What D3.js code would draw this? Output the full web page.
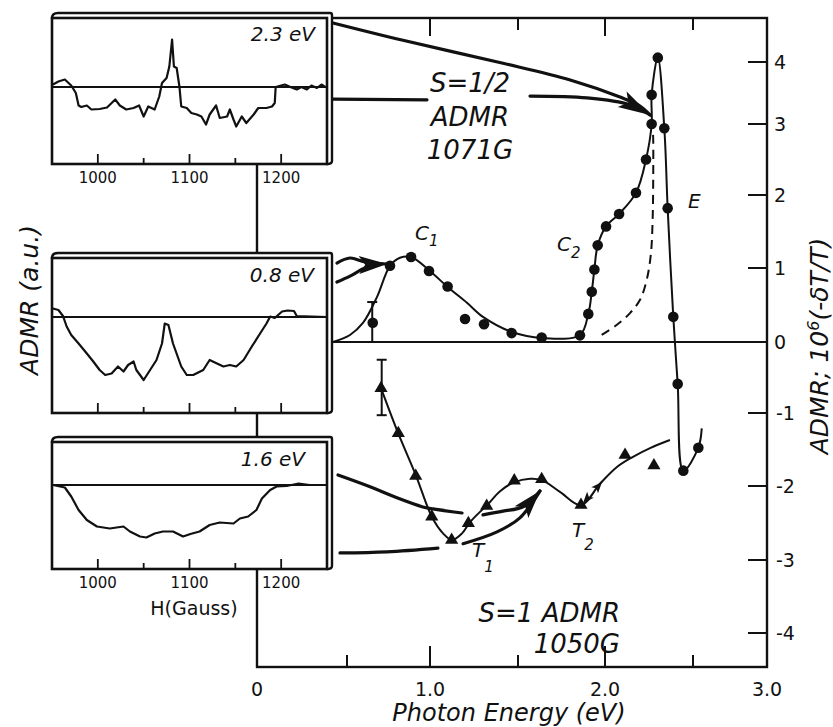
<!DOCTYPE html>
<html>
<head>
<meta charset="utf-8">
<script src="https://cdn.jsdelivr.net/npm/d3@7"></script>
<style>
body { margin: 0; background: #fff; }
svg text { font-family: "DejaVu Sans", sans-serif; fill: #111; }
</style>
</head>
<body>
<div id="chart"></div>
<script>
// ---------- data ----------
var energyTicks = [0, 0.5, 1, 1.5, 2, 2.5, 3];
var energyLabels = ["0", "", "1.0", "", "2.0", "", "3.0"];
var topTicks = [1, 1.5, 2, 2.5];
var admrTicks = [-4, -3, -2, -1, 0, 1, 2, 3, 4];
var fieldTicks = [1000, 1050, 1100, 1150, 1200];
var fieldLabels = ["1000", "", "1100", "", "1200"];

// S=1/2 ADMR (circles) [eV, ADMR]
var circlePts = [
  [0.655, 0.26], [0.759, 1.03], [0.886, 1.15], [0.994, 0.96], [1.10, 0.75],
  [1.199, 0.31], [1.307, 0.24], [1.464, 0.12], [1.636, 0.06], [1.856, 0.09],
  [1.904, 0.38], [1.924, 0.68], [1.939, 0.98], [1.958, 1.31], [2.006, 1.57],
  [2.08, 1.74], [2.176, 2.03], [2.233, 2.50], [2.265, 3.0], [2.265, 3.47],
  [2.30, 4.07], [2.337, 2.94], [2.356, 1.82], [2.388, 0.34], [2.413, -0.59],
  [2.445, -1.79], [2.536, -1.475]
];
var circleFit = [
  [0.422, 0], [0.518, 0.095], [0.596, 0.257], [0.681, 0.61], [0.759, 1.03],
  [0.819, 1.14], [0.886, 1.15], [0.994, 0.97], [1.102, 0.74], [1.21, 0.53],
  [1.301, 0.34], [1.466, 0.135], [1.638, 0.054], [1.856, 0.095], [1.904, 0.38],
  [1.924, 0.68], [1.939, 0.98], [1.958, 1.31], [2.006, 1.57], [2.08, 1.74],
  [2.176, 2.03], [2.233, 2.50], [2.265, 3.0], [2.265, 3.47], [2.30, 4.07],
  [2.337, 2.94], [2.356, 1.82], [2.388, 0.34], [2.413, -0.59], [2.445, -1.79],
  [2.536, -1.475], [2.559, -1.21]
];
var dashedCurve = [
  [1.981, 0.095], [2.066, 0.23], [2.142, 0.39], [2.199, 0.57], [2.237, 0.84],
  [2.261, 1.20], [2.271, 1.70], [2.274, 2.26], [2.274, 2.77], [2.271, 3.0]
];

// S=1 ADMR (triangles)
var trianglePts = [
  [0.705, -0.652], [0.809, -1.278], [0.914, -1.863], [1.010, -2.415], [1.123, -2.73],
  [1.218, -2.504], [1.322, -2.27], [1.479, -1.927], [1.636, -1.908], [1.862, -2.257],
  [2.114, -1.575], [2.278, -1.72]
];
var triangleFit = [
  [0.705, -0.65], [0.807, -1.27], [0.916, -1.86], [1.011, -2.42], [1.074, -2.64],
  [1.125, -2.73], [1.182, -2.64], [1.227, -2.49], [1.284, -2.35], [1.324, -2.26],
  [1.398, -2.07], [1.477, -1.95], [1.569, -1.90], [1.638, -1.92], [1.741, -2.08],
  [1.862, -2.26], [1.971, -1.97], [2.068, -1.74], [2.159, -1.60], [2.256, -1.48],
  [2.369, -1.37]
];

// error bars [eV, low, high]
var errorBars = [[0.652, 0.0, 0.54], [0.709, -1.03, -0.25]];

// inset traces [H (Gauss), signal a.u.]
var trace23 = [
  [951, 0.05], [957, 0.11], [964, 0.15], [971, 0.03], [976, -0.12], [979, -0.37],
  [982, -0.40], [988, -0.37], [993, -0.45], [1002, -0.44], [1010, -0.41], [1019, -0.25],
  [1024, -0.37], [1031, -0.45], [1039, -0.42], [1045, -0.37], [1050, -0.59], [1055, -0.39],
  [1062, -0.45], [1067, -0.19], [1070, 0.08], [1075, 0.18], [1078, 0.41], [1081, 0.95],
  [1083, 0.41], [1086, 0.38], [1089, 0.01], [1091, -0.39], [1097, -0.42], [1102, -0.52],
  [1108, -0.55], [1113, -0.59], [1118, -0.75], [1122, -0.55], [1129, -0.37], [1133, -0.62],
  [1141, -0.59], [1144, -0.45], [1148, -0.65], [1151, -0.79], [1157, -0.59], [1162, -0.72],
  [1170, -0.55], [1175, -0.42], [1184, -0.42], [1190, -0.39], [1193, -0.32], [1194, 0],
  [1204, 0.05], [1210, 0], [1217, -0.05], [1222, 0], [1228, -0.05], [1233, 0.03],
  [1239, -0.02], [1244, 0.05], [1248, 0]
];
var trace08 = [
  [951, 0.17], [957, 0.14], [962, 0.02], [966, -0.19], [971, -0.36], [979, -0.53],
  [988, -0.73], [995, -0.89], [1002, -1.06], [1008, -1.16], [1015, -1.13], [1022, -0.99],
  [1028, -1.09], [1033, -0.96], [1039, -0.89], [1042, -1.06], [1050, -1.26], [1057, -1.06],
  [1064, -0.86], [1070, -0.53], [1073, -0.13], [1077, -0.16], [1082, -0.53], [1091, -0.99],
  [1097, -1.16], [1104, -1.16], [1115, -1.06], [1122, -0.86], [1130, -0.93], [1137, -0.99],
  [1144, -0.96], [1151, -0.99], [1159, -0.86], [1168, -0.59], [1177, -0.33], [1184, -0.13],
  [1188, 0.01], [1193, -0.02], [1201, 0.11], [1207, 0.13], [1214, 0.12], [1217, 0.02],
  [1250, 0]
];
var trace16 = [
  [951, 0], [964, -0.05], [971, -0.23], [979, -0.50], [988, -0.70], [999, -0.83],
  [1013, -0.87], [1028, -0.83], [1035, -0.93], [1046, -1.03], [1053, -1.05], [1062, -0.97],
  [1071, -0.93], [1082, -0.93], [1093, -1.03], [1101, -0.98], [1111, -0.93], [1122, -0.80],
  [1133, -0.75], [1148, -0.77], [1155, -0.67], [1164, -0.63], [1173, -0.50], [1179, -0.27],
  [1188, -0.10], [1195, -0.03], [1206, -0.02], [1219, 0.03], [1231, 0], [1250, 0]
];

// annotation arrows, in [eV, ADMR] units
var arrowTop = {
  lines: [
    [[0.422, 4.63], [0.837, 4.35], [1.415, 3.98], [1.80, 3.71], [2.085, 3.435], [2.199, 3.29], [2.256, 3.145]],
    [[0.422, 3.40], [0.982, 3.39]],
    [[1.569, 3.45], [1.897, 3.42], [2.142, 3.31], [2.256, 3.145]]
  ],
  tip: [2.256, 3.145], from: [2.097, 3.40]
};
var arrowMid = {
  lines: [
    [[0.444, 1.068], [0.518, 1.137], [0.608, 1.082], [0.741, 1.055]],
    [[0.444, 0.81], [0.518, 0.89], [0.608, 1.0], [0.70, 1.05]]
  ],
  tip: [0.741, 1.055], from: [0.566, 1.04]
};
var arrowBot = {
  lines: [
    [[0.45, -1.849], [0.639, -2.01], [0.801, -2.16], [0.952, -2.28], [1.017, -2.31], [1.182, -2.365]],
    [[1.301, -2.39], [1.415, -2.34], [1.529, -2.28], [1.626, -2.068]],
    [[0.461, -2.905], [0.741, -2.89], [1.045, -2.84]],
    [[1.188, -2.78], [1.381, -2.62], [1.511, -2.43], [1.626, -2.068]]
  ],
  tip: [1.626, -2.068], from: [1.54, -2.30]
};
var doubleArrow = [[1.874, -2.23], [1.983, -1.945]];

// ---------- layout ----------
var width = 833, height = 727;
var xStops = [257, 347, 430, 518, 605, 693, 767];
var yStops = [633, 560, 486, 413, 342, 268, 195, 124, 62];
var frame = { top: 18, bottom: 667 };
var box = { left: 52, right: 327, depth: 5 };
var insets = [
  { name: "2.3 eV", trace: trace23, top: 18, bottom: 164, zero: 87, lx: 315, ly: 41, labels: true },
  { name: "0.8 eV", trace: trace08, top: 258, bottom: 413, zero: 317, lx: 314, ly: 282, labels: false },
  { name: "1.6 eV", trace: trace16, top: 442, bottom: 569, zero: 485, lx: 305, ly: 466, labels: true }
];

var x = d3.scaleLinear().domain(energyTicks).range(xStops);
var y = d3.scaleLinear().domain(admrTicks).range(yStops);
var hx = d3.scaleLinear().domain([950, 1250]).range([box.left, box.right]);

var svg = d3.select("#chart").append("svg")
    .attr("width", width)
    .attr("height", height);

var ink = "#111";
var line = d3.line()
    .x(function (d) { return x(d[0]); })
    .y(function (d) { return y(d[1]); });

// main frame
svg.append("rect")
    .attr("x", x(0)).attr("y", frame.top)
    .attr("width", x(3) - x(0)).attr("height", frame.bottom - frame.top)
    .attr("fill", "none").attr("stroke", ink).attr("stroke-width", 2.4);

// zero line
svg.append("line")
    .attr("x1", x(0)).attr("x2", x(3))
    .attr("y1", y(0)).attr("y2", y(0))
    .attr("stroke", ink).attr("stroke-width", 2.2);

// bottom ticks
svg.selectAll(".btick")
    .data(energyTicks.slice(1, -1))
    .enter().append("line")
    .attr("x1", function (d) { return x(d); })
    .attr("x2", function (d) { return x(d); })
    .attr("y1", frame.bottom)
    .attr("y2", function (d) { return frame.bottom - (d % 1 === 0 ? 21 : 12); })
    .attr("stroke", ink).attr("stroke-width", 2);

// top ticks
svg.selectAll(".ttick")
    .data(topTicks)
    .enter().append("line")
    .attr("x1", function (d) { return x(d); })
    .attr("x2", function (d) { return x(d); })
    .attr("y1", frame.top)
    .attr("y2", function (d) { return frame.top + (d % 1 === 0 ? 18 : 12); })
    .attr("stroke", ink).attr("stroke-width", 2);

svg.selectAll(".blabel")
    .data(energyTicks)
    .enter().append("text")
    .attr("x", function (d) { return x(d); })
    .attr("y", 696)
    .attr("text-anchor", "middle")
    .style("font-size", "19px")
    .text(function (d, i) { return energyLabels[i]; });

// right axis ticks + labels
svg.selectAll(".rtick")
    .data(admrTicks)
    .enter().append("line")
    .attr("x1", x(3) - 19).attr("x2", x(3))
    .attr("y1", function (d) { return y(d); })
    .attr("y2", function (d) { return y(d); })
    .attr("stroke", ink).attr("stroke-width", 2);

svg.selectAll(".rlabel")
    .data(admrTicks)
    .enter().append("text")
    .attr("x", function (d) { return d < 0 ? x(3) + 9 : x(3) + 7; })
    .attr("y", function (d) { return y(d); })
    .attr("dy", "0.36em")
    .style("font-size", "19px")
    .text(function (d) { return d; });

// axis titles
svg.append("text")
    .attr("x", 509).attr("y", 721)
    .attr("text-anchor", "middle")
    .style("font-size", "24px").style("font-style", "italic")
    .text("Photon Energy (eV)");

var rt = svg.append("text")
    .attr("transform", "translate(828,346) rotate(-90)")
    .attr("text-anchor", "middle")
    .style("font-size", "25px").style("font-style", "italic");
rt.append("tspan").text("ADMR; 10");
rt.append("tspan").attr("dy", -9).style("font-size", "16px").text("6");
rt.append("tspan").attr("dy", 9).text("(-\u03b4T/T)");

svg.append("text")
    .attr("transform", "translate(38,300) rotate(-90)")
    .attr("text-anchor", "middle")
    .style("font-size", "25px").style("font-style", "italic")
    .text("ADMR (a.u.)");

// ---------- insets ----------
insets.forEach(function (ins) {
    var g = svg.append("g");
    var L = box.left, R = box.right, T = ins.top, B = ins.bottom, d = box.depth;
    var iy = d3.scaleLinear().domain([-1, 1]).range([ins.zero + 50, ins.zero - 50]);

    // slab outline (3D look)
    g.append("path")
        .attr("d", "M" + L + "," + T + " Q" + L + "," + (T - d) + " " + (L + d + 1) + "," + (T - d) +
            " L" + (R + d - 2) + "," + (T - d) + " Q" + (R + d) + "," + (T - d) + " " + (R + d) + "," + (T - d + 2) +
            " L" + (R + d) + "," + (B - 3) + " Q" + (R + d) + "," + B + " " + R + "," + B + " Z")
        .attr("fill", "#fff").attr("stroke", ink).attr("stroke-width", 2.4);
    g.append("rect")
        .attr("x", L).attr("y", T).attr("width", R - L).attr("height", B - T)
        .attr("fill", "#fff").attr("stroke", ink).attr("stroke-width", 2.6);

    // zero line
    g.append("line")
        .attr("x1", L).attr("x2", R).attr("y1", ins.zero).attr("y2", ins.zero)
        .attr("stroke", ink).attr("stroke-width", 2);

    // field ticks
    g.selectAll(".ftick")
        .data(fieldTicks)
        .enter().append("line")
        .attr("x1", function (t) { return hx(t); })
        .attr("x2", function (t) { return hx(t); })
        .attr("y1", B)
        .attr("y2", function (t, i) { return B - (fieldLabels[i] ? 10 : 6); })
        .attr("stroke", ink).attr("stroke-width", 1.8);

    if (ins.labels) {
        g.selectAll(".flabel")
            .data(fieldTicks)
            .enter().append("text")
            .attr("x", function (t) { return hx(t); })
            .attr("y", B + 19)
            .attr("text-anchor", "middle")
            .style("font-size", "15px")
            .text(function (t, i) { return fieldLabels[i]; });
    }

    // trace
    g.append("path")
        .datum(ins.trace)
        .attr("d", d3.line()
            .x(function (p) { return hx(p[0]); })
            .y(function (p) { return iy(p[1]); }))
        .attr("fill", "none").attr("stroke", ink).attr("stroke-width", 2.2)
        .attr("stroke-linejoin", "round");

    g.append("text")
        .attr("x", ins.lx).attr("y", ins.ly)
        .attr("text-anchor", "end")
        .style("font-size", "20px").style("font-style", "italic")
        .text(ins.name);
});

svg.append("text")
    .attr("x", 194).attr("y", 615)
    .attr("text-anchor", "middle")
    .style("font-size", "19px")
    .text("H(Gauss)");

// ---------- data curves ----------
svg.append("path")
    .datum(dashedCurve)
    .attr("d", line.curve(d3.curveCatmullRom.alpha(0.5)))
    .attr("fill", "none").attr("stroke", ink).attr("stroke-width", 2)
    .attr("stroke-dasharray", "9,6");

svg.append("path")
    .datum(circleFit)
    .attr("d", line.curve(d3.curveCatmullRom.alpha(0.5)))
    .attr("fill", "none").attr("stroke", ink).attr("stroke-width", 2);

svg.append("path")
    .datum(triangleFit)
    .attr("d", line.curve(d3.curveCatmullRom.alpha(0.5)))
    .attr("fill", "none").attr("stroke", ink).attr("stroke-width", 2);

// error bars
errorBars.forEach(function (e) {
    var ex = x(e[0]);
    svg.append("line").attr("x1", ex).attr("x2", ex).attr("y1", y(e[1])).attr("y2", y(e[2]))
        .attr("stroke", ink).attr("stroke-width", 2);
    [e[1], e[2]].forEach(function (v) {
        svg.append("line").attr("x1", ex - 5).attr("x2", ex + 5).attr("y1", y(v)).attr("y2", y(v))
            .attr("stroke", ink).attr("stroke-width", 2);
    });
});

svg.selectAll(".circ")
    .data(circlePts)
    .enter().append("circle")
    .attr("cx", function (d) { return x(d[0]); })
    .attr("cy", function (d) { return y(d[1]); })
    .attr("r", 5.3)
    .attr("fill", ink);

svg.selectAll(".tri")
    .data(trianglePts)
    .enter().append("path")
    .attr("d", d3.symbol(d3.symbolTriangle, 75))
    .attr("transform", function (d) { return "translate(" + x(d[0]) + "," + y(d[1]) + ")"; })
    .attr("fill", ink);

// ---------- arrows ----------
function arrowHead(tip, from, len, hw) {
    var tx = x(tip[0]), ty = y(tip[1]), fx = x(from[0]), fy = y(from[1]);
    var dx = tx - fx, dy = ty - fy, n = Math.sqrt(dx * dx + dy * dy);
    dx /= n; dy /= n;
    var bx = tx - dx * len, by = ty - dy * len;
    var nx = tx - dx * len * 0.78, ny = ty - dy * len * 0.78;
    svg.append("path")
        .attr("d", "M" + tx + "," + ty +
            " L" + (bx - dy * hw) + "," + (by + dx * hw) +
            " L" + nx + "," + ny +
            " L" + (bx + dy * hw) + "," + (by - dx * hw) + " Z")
        .attr("fill", ink);
}

[arrowTop, arrowMid, arrowBot].forEach(function (a, k) {
    a.lines.forEach(function (pts) {
        svg.append("path")
            .datum(pts)
            .attr("d", line.curve(d3.curveCatmullRom.alpha(0.5)))
            .attr("fill", "none").attr("stroke", ink).attr("stroke-width", 3.2)
            .attr("stroke-linecap", "round");
    });
    arrowHead(a.tip, a.from, k === 0 ? 32 : 28, 9);
});

arrowHead(doubleArrow[0], doubleArrow[1], 11, 4.5);
arrowHead(doubleArrow[1], doubleArrow[0], 11, 4.5);

// ---------- labels ----------
function subLabel(pos, main, sub, drop) {
    var t = svg.append("text")
        .attr("x", x(pos[0])).attr("y", y(pos[1]))
        .style("font-size", "20px").style("font-style", "italic");
    t.append("tspan").text(main);
    if (sub) t.append("tspan").attr("dy", drop).style("font-size", "15px").text(sub);
}
subLabel([0.91, 1.39], "C", "1", 6);
subLabel([1.724, 1.23], "C", "2", 7);
subLabel([2.472, 1.82], "E", null, 0);
subLabel([1.239, -2.96], "T", "1", 15);
subLabel([1.81, -2.69], "T", "2", 13);

var halfLines = ["S=1/2", "ADMR", "1071G"];
var halfBase = [3.52, 2.97, 2.51];
halfLines.forEach(function (s, i) {
    svg.append("text")
        .attr("x", x(1.227)).attr("y", y(halfBase[i]))
        .attr("text-anchor", "middle")
        .style("font-size", "26px").style("font-style", "italic")
        .text(s);
});

var oneLines = ["S=1 ADMR", "1050G"];
var oneBase = [-3.85, -4.27];
oneLines.forEach(function (s, i) {
    svg.append("text")
        .attr("x", x(2.085)).attr("y", y(oneBase[i]))
        .attr("text-anchor", "end")
        .style("font-size", "26px").style("font-style", "italic")
        .text(s);
});
</script>
</body>
</html>
